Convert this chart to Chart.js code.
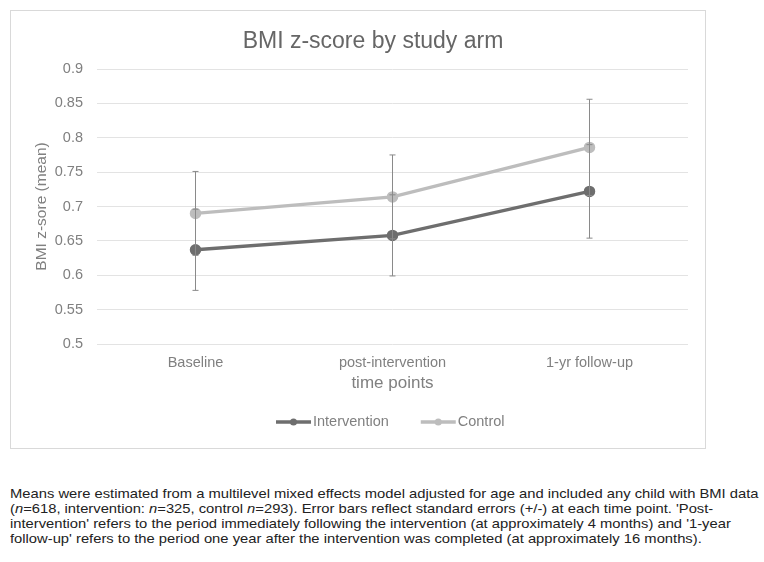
<!DOCTYPE html>
<html>
<head>
<meta charset="utf-8">
<script src="https://cdn.jsdelivr.net/npm/chart.js@4"></script>
<style>
    body { margin: 0; background: #fff; width: 764px; height: 562px; position: relative; overflow: hidden; }
    #box { position: absolute; left: 10px; top: 10px; width: 694px; height: 437px; border: 1px solid #d9d9d9; }
    #caption {
        position: absolute; left: 10px; top: 486px; width: 700px;
        font-family: "Liberation Sans", Arial, sans-serif; font-size: 13px; line-height: 15px;
        color: #222; white-space: nowrap;
        transform: scaleX(1.135); transform-origin: 0 0;
    }
</style>
</head>
<body>
<div id="box"><canvas id="bmiChart" width="694" height="437"></canvas></div>
<div id="caption">
    Means were estimated from a multilevel mixed effects model adjusted for age and included any child with BMI data<br>
    (<i>n</i>=618, intervention: <i>n</i>=325, control <i>n</i>=293). Error bars reflect standard errors (+/-) at each time point. 'Post-<br>
    intervention' refers to the period immediately following the intervention (at approximately 4 months) and '1-year<br>
    follow-up' refers to the period one year after the intervention was completed (at approximately 16 months).
</div>
<script>
// Data
const timePoints = ['Baseline', 'post-intervention', '1-yr follow-up'];
const interventionMean = [0.637, 0.658, 0.722];
const interventionSE = [0.059, 0.059, 0.068];
const controlMean = [0.690, 0.714, 0.786];
const controlSE = [0.061, 0.061, 0.070];
const yTicks = [0.5, 0.55, 0.6, 0.65, 0.7, 0.75, 0.8, 0.85, 0.9];

const FONT = '"Liberation Sans", Arial, sans-serif';
const GREY_TEXT = '#808080';
const chartTitle = 'BMI z-score by study arm';

// draws +/- SE whiskers for every point
const errorBars = {
    id: 'errorBars',
    afterDatasetsDraw(chart) {
        const { ctx, scales: { x, y } } = chart;
        ctx.save();
        ctx.strokeStyle = '#8a8a8a';
        ctx.lineWidth = 1;
        chart.data.datasets.forEach(ds => {
            ds.data.forEach((v, i) => {
                const px = x.getPixelForValue(i);
                const top = y.getPixelForValue(v + ds.se[i]);
                const bot = y.getPixelForValue(v - ds.se[i]);
                ctx.beginPath();
                ctx.moveTo(px, top); ctx.lineTo(px, bot);
                ctx.moveTo(px - 3, top); ctx.lineTo(px + 3, top);
                ctx.moveTo(px - 3, bot); ctx.lineTo(px + 3, bot);
                ctx.stroke();
            });
        });
        ctx.restore();
    }
};

// title (sits a bit right of centre in the original) and line+marker legend
const decorations = {
    id: 'decorations',
    afterDraw(chart) {
        const { ctx } = chart;
        ctx.save();
        ctx.font = '23px ' + FONT;
        ctx.fillStyle = '#666';
        ctx.textAlign = 'center';
        ctx.textBaseline = 'middle';
        ctx.fillText(chartTitle, 362, 31);

        const y = 411;
        ctx.font = '14.5px ' + FONT;
        ctx.textAlign = 'left';
        let x = 265;
        chart.data.datasets.forEach(ds => {
            ctx.strokeStyle = ds.borderColor;
            ctx.fillStyle = ds.borderColor;
            ctx.lineWidth = 3.5;
            ctx.beginPath();
            ctx.moveTo(x, y); ctx.lineTo(x + 35, y);
            ctx.stroke();
            ctx.beginPath();
            ctx.arc(x + 17.5, y, 3.5, 0, Math.PI * 2);
            ctx.fill();
            ctx.fillStyle = GREY_TEXT;
            ctx.fillText(ds.label, x + 37, y);
            x += 37 + ctx.measureText(ds.label).width + 32;
        });
        ctx.restore();
    }
};

const ctx = document.getElementById('bmiChart').getContext('2d');
new Chart(ctx, {
    type: 'line',
    data: {
        labels: timePoints,
        datasets: [
            {
                label: 'Intervention',
                data: interventionMean,
                se: interventionSE,
                borderColor: '#6e6e6e',
                backgroundColor: '#6e6e6e',
                borderWidth: 3.5,
                pointRadius: 4,
                pointHoverRadius: 4
            },
            {
                label: 'Control',
                data: controlMean,
                se: controlSE,
                borderColor: '#bdbdbd',
                backgroundColor: '#bdbdbd',
                borderWidth: 3.5,
                pointRadius: 4,
                pointHoverRadius: 4
            }
        ]
    },
    options: {
        responsive: false,
        animation: false,
        layout: { padding: { left: 0, right: 17, top: 58, bottom: 42 } },
        scales: {
            x: {
                offset: true,
                grid: { display: false },
                border: { display: false },
                ticks: { color: GREY_TEXT, font: { family: FONT, size: 14.5 }, padding: 2 },
                title: { display: true, text: 'time points', color: GREY_TEXT, font: { family: FONT, size: 17 }, padding: { top: 2, bottom: 12 } },
                afterFit: s => { s.height = 62; }
            },
            y: {
                min: 0.5,
                max: 0.9,
                afterBuildTicks: s => { s.ticks = yTicks.map(v => ({ value: v })); },
                grid: { color: '#e3e3e3', drawTicks: false },
                border: { display: false },
                ticks: {
                    color: GREY_TEXT, font: { family: FONT, size: 14.5 }, padding: 14,
                    callback: v => String(+v.toFixed(2))
                },
                title: { display: true, text: 'BMI z-sore (mean)', color: GREY_TEXT, font: { family: FONT, size: 15.5 }, padding: { top: 21, bottom: 0 } },
                afterFit: s => { s.width = 86; }
            }
        },
        plugins: {
            legend: { display: false },
            tooltip: { enabled: false },
            title: { display: false }
        }
    },
    plugins: [errorBars, decorations]
});
</script>
</body>
</html>
